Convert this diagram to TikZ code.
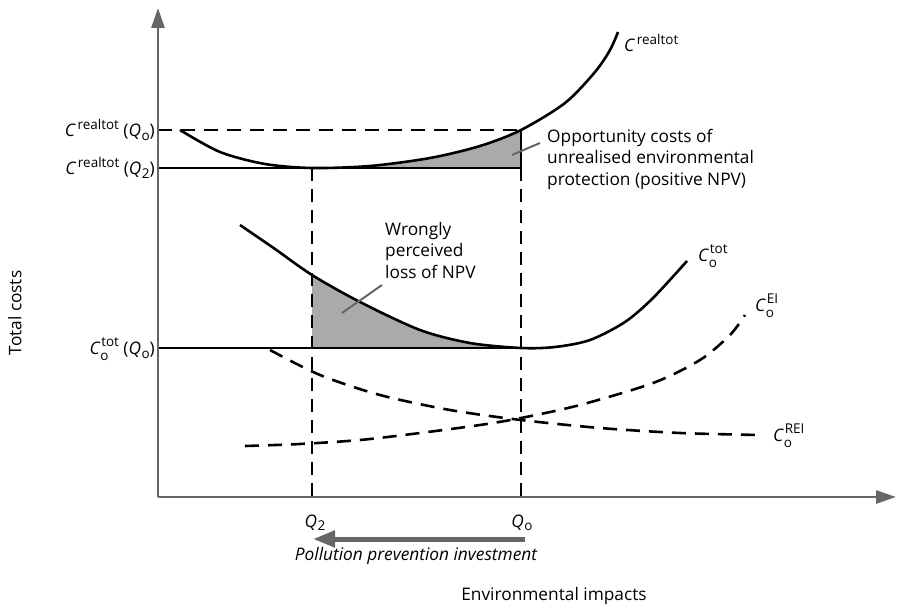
\documentclass[tikz,border=0pt]{standalone}
\usepackage{fontspec}
\setmainfont{Open Sans}
\usetikzlibrary{arrows.meta}
\definecolor{axisgray}{HTML}{666666}
\definecolor{shadegray}{HTML}{AAAAAA}
\newcommand\smallidx[1]{{\fontsize{13.5}{14}\selectfont #1}}
\newcommand\Csup[1]{{\itshape C}\kern2.5pt\raisebox{0.45em}{\smallidx{#1}}}
\newcommand\Cboth[2]{{\itshape C}\kern0.5pt\rlap{\raisebox{-0.3em}{\smallidx{#1}}}\kern1pt\raisebox{0.5em}{\smallidx{#2}}}
\newcommand\Qsub[1]{{\itshape Q}\kern0.5pt\raisebox{-0.22em}{\smallidx{#1}}}
\begin{document}
\begin{tikzpicture}[x=1pt,y=-1pt,
  every node/.style={font=\fontsize{17.3}{21.5}\selectfont, inner sep=0pt},
  curve/.style={line width=2.6pt, black},
  dashcurve/.style={line width=2.6pt, dash pattern=on 14pt off 9pt},
  vdash/.style={line width=2.6pt, dash pattern=on 13pt off 8pt},
  axisline/.style={line width=2.8pt, axisgray, -{Triangle[length=20pt,width=13pt]}},
  leader/.style={line width=2pt, axisgray},
  guide/.style={line width=2.6pt, black}]
\useasboundingbox (0,0) rectangle (908,609);

% shaded areas
\begin{scope}
\clip (312,348) rectangle (521,150);
\fill[shadegray] plot[smooth] coordinates {(240,225) (275,249) (312,275) (360,302) (420,330) (470,343) (521,348) (555,347) (590,340) (625,322) (653,298) (687,261)} -- (687,348) -- (240,348) -- cycle;
\end{scope}
\begin{scope}
\clip (312,168) rectangle (521,100);
\fill[shadegray] plot[smooth] coordinates {(180,130) (220,152) (265,164) (312,168) (370,166) (430,158) (480,146) (521,130) (565,103) (595,72) (610,50) (618,32)} -- (618,168) -- (180,168) -- cycle;
\end{scope}

% coordinates
\coordinate (O) at (158,497);
\coordinate (ytip) at (158,8);
\coordinate (xtip) at (896,497);
\coordinate (Aq0) at (158,130);
\coordinate (Bq0) at (521,130);
\coordinate (A2) at (158,168);
\coordinate (B2) at (521,168);
\coordinate (M2) at (312,168);
\coordinate (A3) at (158,348);
\coordinate (B3) at (521,348);
\coordinate (Q2b) at (312,503);
\coordinate (Q0b) at (521,503);

% guide lines
\draw[dashcurve] (Aq0) -- (Bq0);
\draw[guide] (Bq0) -- (B2);
\draw[guide] (A2) -- (B2);
\draw[guide] (A3) -- (B3);
\draw[vdash] (M2) -- (Q2b);
\draw[vdash] (B2) -- (Q0b);

% curves
\draw[curve] plot[smooth] coordinates {(180,130) (220,152) (265,164) (312,168) (370,166) (430,158) (480,146) (521,130) (565,103) (595,72) (610,50) (618,32)};
\draw[curve] plot[smooth] coordinates {(240,225) (275,249) (312,275) (360,302) (420,330) (470,343) (521,348) (555,347) (590,340) (625,322) (653,298) (687,261)};
\draw[dashcurve] plot[smooth] coordinates {(245,446) (300,444) (360,440) (420,433) (480,425) (521,418) (580,405) (653,383) (700,360) (730,335) (745,315)};
\draw[dashcurve] plot[smooth] coordinates {(270,350) (320,375) (380,395) (450,410) (521,420) (600,428) (680,433) (760,435)};

% axes
\draw[axisline] (O) -- (ytip);
\draw[axisline] (O) -- (xtip);

% leaders
\coordinate (l1a) at (342,313);
\coordinate (l1b) at (382,285);
\coordinate (l2a) at (512,155);
\coordinate (l2b) at (540,143);
\draw[leader] (l1a) -- (l1b);
\draw[leader] (l2a) -- (l2b);

% pollution arrow
\coordinate (pa) at (525,539);
\coordinate (pb) at (313,539);
\draw[line width=5pt, axisgray, -{Triangle[length=22pt,width=16pt]}] (pa) -- (pb);

% labels
\node[anchor=base west] (lreal) at (624,52) {\Csup{realtot}};
\node[anchor=base west] (ltot) at (698,262) {\Cboth{o}{tot}};
\node[anchor=base west] (lei) at (755,312) {\Cboth{o}{EI}};
\node[anchor=base west] (lrei) at (773,442) {\Cboth{o}{REI}};

\node[anchor=base east] (y1) at (155,137) {\Csup{realtot} (\Qsub{o})};
\node[anchor=base east] (y2) at (155,175) {\Csup{realtot} (\Qsub{2})};
\node[anchor=base east] (y3) at (155,355) {\Cboth{o}{tot} (\Qsub{o})};

\node[anchor=base] (xq2) at (315,527) {\Qsub{2}};
\node[anchor=base] (xq0) at (522,527) {\Qsub{o}};

\node[anchor=base] (ppi) at (416,560) {\itshape Pollution prevention investment};
\node[anchor=base] (xlab) at (554,600) {Environmental impacts};
\node[rotate=90] (ylab) at (15,313) {Total costs};

\node[anchor=north west, align=left] (opp) at (547,129) {Opportunity costs of\\unrealised environmental\\protection (positive NPV)};
\node[anchor=north west, align=left] (wrong) at (385,222) {Wrongly\\perceived\\loss of NPV};
\end{tikzpicture}
\end{document}
